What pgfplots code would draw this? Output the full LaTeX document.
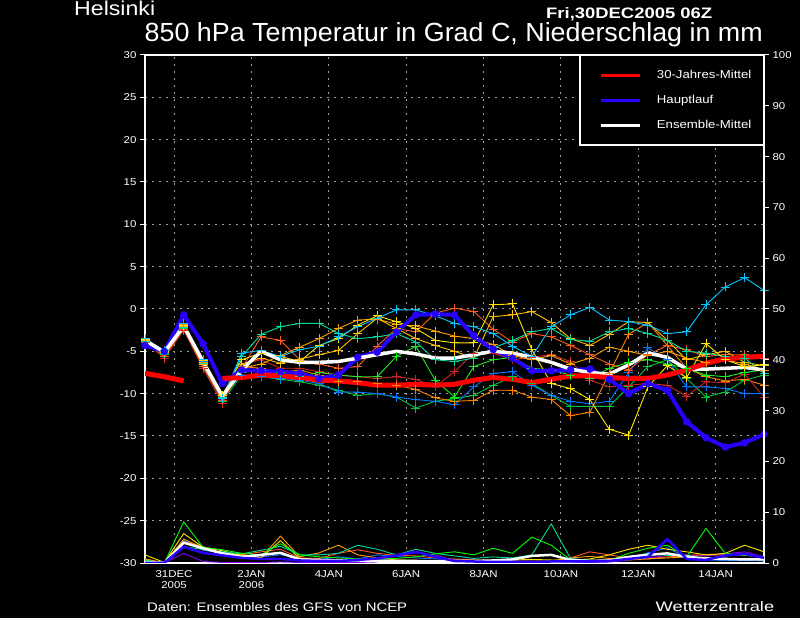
\documentclass[border=0pt]{standalone}
\usepackage{pgfplots}
\pgfplotsset{compat=1.18}
\usepackage{pgfplotstable}
\usepackage{graphicx}
\usepackage{fontspec}
\setmainfont{Liberation Sans}
\newfontfamily\wide[FakeStretch=1.15]{Liberation Sans}

\definecolor{mA}{RGB}{0,200,255}
\definecolor{mB}{RGB}{0,220,160}
\definecolor{mC}{RGB}{255,230,0}
\definecolor{mD}{RGB}{255,190,0}
\definecolor{mE}{RGB}{255,160,0}
\definecolor{mF}{RGB}{255,90,30}
\definecolor{mG}{RGB}{200,40,40}
\definecolor{mH}{RGB}{30,235,30}
\definecolor{mI}{RGB}{0,200,60}
\definecolor{mJ}{RGB}{0,120,255}
\definecolor{mK}{RGB}{255,130,0}
\definecolor{pP}{RGB}{140,0,255}
\definecolor{hblue}{RGB}{40,0,255}
\definecolor{hred}{RGB}{255,0,0}
\definecolor{gridgray}{RGB}{160,160,160}

\pgfplotstableread{
x red blue white m1 m2 m3 m4 m5 m6 m7 m8 m9 m10 m11
-0.75 -7.6 -4.3 -3.7 -3.5 -3.8 -3.6 -3.7 -3.6 -3.9 -3.9 -3.5 -3.8 -3.6 -3.7
-0.25 -8.0 -5.0 -5.1 -4.9 -5.3 -5.0 -5.2 -5.1 -5.6 -5.8 -5.0 -5.4 -5.1 -5.3
0.25 -8.5 -0.7 -2.0 -1.7 -2.2 -1.9 -2.1 -1.8 -2.4 -2.5 -1.8 -2.3 -1.9 -2.0
0.75 nan -4.1 -6.2 -6.0 -6.4 -6.1 -6.5 -6.3 -6.8 -7.0 -6.3 -6.6 -6.2 -6.4
1.25 -8.2 -8.8 -10.3 -10.6 -10.4 -10.2 -10.6 -10.5 -10.8 -11.2 -10.5 -10.9 -10.2 -10.6
1.75 -8.1 -7.2 -7.2 -5.2 -5.6 -6.0 -6.5 -7.0 -7.0 -6.5 -7.5 -7.8 -7.8 -6.8
2.25 -7.8 -7.3 -5.0 -4.9 -3.0 -5.2 -5.8 -6.5 -3.3 -6.0 -7.2 -8.0 -8.0 -7.0
2.75 -7.9 -7.4 -6.0 -5.6 -2.1 -5.6 -6.4 -5.5 -3.7 -7.0 -7.5 -8.3 -8.2 -7.5
3.25 -8.1 -7.6 -6.3 -4.8 -1.7 -6.2 -5.9 -4.5 -6.0 -7.0 -8.0 -8.6 -8.4 -7.2
3.75 -8.4 -8.2 -6.3 -4.4 -1.7 -4.3 -5.4 -3.5 -6.5 -7.4 -7.5 -9.0 -8.8 -7.8
4.25 -8.5 -7.8 -6.2 -3.3 -2.9 -3.5 -4.9 -2.3 -7.0 -7.8 -7.8 -9.6 -9.8 -8.6
4.75 -8.7 -5.7 -5.8 -2.1 -3.5 -1.9 -2.9 -1.3 -6.8 -8.0 -8.0 -10.2 -9.8 -8.5
5.25 -9.0 -5.1 -5.4 -1.1 -3.3 -0.8 -1.1 -1.2 -4.4 -8.2 -8.0 -10.0 -10.0 -8.8
5.75 -9.0 -2.7 -5.0 -0.1 -2.9 -1.5 -2.3 -1.8 -2.3 -8.0 -5.6 -10.4 -10.4 -9.0
6.25 -8.9 -0.7 -5.3 -0.1 -3.9 -2.3 -3.5 -2.0 -2.7 -8.3 -4.4 -11.7 -10.7 -9.5
6.75 -9.0 -0.6 -5.8 -0.8 -6.0 -3.7 -4.3 -2.6 -0.5 -9.2 -8.4 -10.9 -10.9 -10.5
7.25 -8.9 -0.7 -5.8 -1.7 -6.2 -4.0 -5.0 -3.2 0.1 -7.4 -10.4 -10.6 -11.3 -10.9
7.75 -8.4 -3.2 -5.4 -2.1 -5.8 -4.0 -5.8 -3.5 -0.3 -5.2 -6.8 -10.2 -9.2 -10.8
8.25 -8.1 -4.8 -5.0 -2.9 -4.6 0.5 -0.9 -4.2 -2.4 -5.2 -6.0 -9.0 -7.6 -9.6
8.75 -8.3 -5.8 -5.2 -4.4 -3.7 0.6 -0.7 -5.5 -3.9 -6.0 -5.7 -8.0 -7.4 -9.6
9.25 -8.7 -7.3 -5.7 -5.6 -2.7 -4.8 -0.3 -6.0 -2.9 -5.7 -7.0 -8.8 -9.0 -10.4
9.75 -8.3 -7.3 -6.3 -2.1 -2.3 -8.8 -1.6 -5.5 -3.3 -5.4 -7.2 -10.2 -10.2 -10.7
10.25 -7.9 -7.2 -7.1 -0.7 -3.6 -9.4 -3.5 -6.5 -4.3 -6.2 -7.8 -11.5 -10.9 -12.6
10.75 -7.9 -7.1 -7.5 0.2 -3.8 -10.7 -4.3 -5.8 -5.4 -8.4 -8.2 -11.5 -11.2 -12.2
11.25 -8.1 -8.3 -7.7 -1.3 -2.7 -14.2 -3.0 -4.5 -6.5 -9.2 -7.0 -11.5 -10.9 -7.6
11.75 -8.2 -10.0 -6.6 -1.5 -2.3 -14.9 -1.5 -5.0 -7.2 -9.0 -6.3 -9.2 -7.5 -3.0
12.25 -8.2 -8.8 -5.2 -1.9 -2.9 -9.2 -1.6 -5.5 -5.4 -8.8 -6.0 -6.8 -4.6 -1.6
12.75 -7.8 -9.6 -5.7 -2.9 -3.7 -6.7 -3.7 -5.0 -4.3 -9.0 -6.5 -6.0 -6.0 -4.3
13.25 -7.2 -13.3 -7.1 -2.7 -5.0 -8.1 -6.0 -5.8 -4.8 -10.3 -7.0 -8.2 -9.2 -7.0
13.75 -6.4 -15.2 -7.1 0.5 -5.2 -4.1 -5.4 -6.3 -5.6 -8.6 -7.8 -10.4 -9.2 -8.0
14.25 -5.9 -16.3 -7.0 2.6 -5.6 -6.0 -5.0 -6.0 -5.4 -8.7 -8.0 -9.8 -9.4 -8.5
14.75 -5.7 -15.8 -6.9 3.7 -5.8 -6.8 -6.3 -6.5 -5.4 -7.7 -7.5 -8.4 -10.0 -8.3
15.25 -5.6 -14.8 -7.2 2.2 -7.6 -6.6 -6.7 -7.2 -5.8 -10.4 -7.2 -7.8 -10.0 -9.0
}\temps

\pgfplotstableread{
x pg pt py po pr pb pp pw pm
-0.75 0.6 0.5 1.6 0.8 0.8 0.3 0.3 0.2 0.0
-0.25 0.0 0.0 0.1 0.0 0.0 0.0 0.0 0.0 0.0
0.25 8.1 3.2 5.8 4.7 4.2 4.5 1.9 4.0 3.2
0.75 3.1 2.7 3.1 3.0 3.2 2.5 0.3 2.9 2.0
1.25 2.6 2.2 2.4 2.0 2.0 2.0 0.1 1.9 1.5
1.75 1.9 1.8 1.5 1.6 1.6 1.6 0.1 1.2 1.0
2.25 1.6 2.5 1.0 1.0 2.2 1.2 0.1 1.6 0.8
2.75 3.8 3.3 4.4 5.3 2.7 1.6 0.2 2.0 0.8
3.25 1.6 1.6 0.9 1.2 1.0 0.9 0.1 0.7 0.5
3.75 1.2 1.6 0.6 2.0 0.9 0.7 0.1 0.6 0.4
4.25 1.0 1.9 0.7 3.5 1.9 1.2 0.1 0.5 0.4
4.75 0.8 3.5 0.5 1.6 2.6 0.8 0.1 0.5 0.6
5.25 0.8 2.7 0.4 1.0 1.9 1.6 0.2 0.4 0.9
5.75 0.9 1.6 0.4 0.6 1.5 1.3 1.6 0.4 1.5
6.25 1.2 2.7 0.3 0.5 1.4 1.0 2.0 0.4 2.2
6.75 1.8 1.9 0.3 0.4 1.0 0.8 1.6 0.3 1.2
7.25 2.2 1.4 0.4 0.3 0.8 0.6 0.5 0.4 0.4
7.75 1.6 0.9 0.5 0.3 0.6 0.5 0.3 0.4 0.3
8.25 2.9 1.2 0.5 0.4 0.5 0.4 0.2 0.5 0.2
8.75 1.9 1.0 0.6 0.3 0.4 0.4 0.2 0.7 0.2
9.25 5.1 1.6 0.7 0.3 0.4 0.3 0.2 1.4 0.2
9.75 3.5 7.7 0.6 0.4 0.3 0.3 0.3 1.6 0.3
10.25 0.6 0.9 0.5 1.0 1.0 0.4 0.2 0.6 0.3
10.75 0.5 0.5 0.8 1.3 2.2 0.3 0.1 0.4 0.3
11.25 0.5 0.6 1.6 0.9 1.6 0.4 0.2 0.5 0.4
11.75 1.9 1.0 2.7 0.6 1.0 1.0 0.6 1.2 0.8
12.25 2.9 1.9 3.5 0.8 0.8 2.0 1.0 1.6 1.2
12.75 3.5 1.5 2.7 1.0 1.2 3.0 1.5 1.9 4.7
13.25 1.2 1.5 2.2 1.2 1.5 1.0 1.6 1.2 0.8
13.75 6.8 0.8 1.6 1.0 1.6 0.6 1.4 0.9 0.6
14.25 1.9 0.7 1.9 0.8 1.6 0.5 1.8 0.8 1.5
14.75 1.5 0.8 3.5 0.9 1.5 0.5 2.2 0.7 1.8
15.25 1.2 0.6 2.2 0.7 1.2 0.4 1.2 0.7 1.0
}\precip

\pgfplotsset{
  member/.style={forget plot, line width=0.9bp, mark=+, mark size=4.5bp,
    mark options={line width=0.9bp, solid}, line join=round},
  pline/.style={forget plot, line width=0.9bp, line join=round},
}

\begin{document}
\begin{tikzpicture}
\path[use as bounding box, fill=black] (0,0) rectangle (800bp,618bp);

\begin{axis}[
  at={(145bp,55bp)}, anchor=south west,
  width=619bp, height=508bp, scale only axis,
  xmin=-0.75, xmax=15.25, ymin=-30, ymax=30,
  xtick={0,2,...,14},
  xticklabels={{31DEC\\2005},{2JAN\\2006},4JAN,6JAN,8JAN,10JAN,12JAN,14JAN},
  ytick={-30,-25,...,30},
  ytick pos=left,
  tick align=outside,
  major tick length=5bp,
  xtick style={draw=none},
  ytick style={white, line width=1bp},
  axis line style={white, line width=1.6bp},
  /pgf/number format/assume math mode=true,
  tick label style={text=white, font=\wide\fontsize{10}{11}\selectfont},
  xticklabel style={align=center, inner sep=2bp},
  grid=major,
  major grid style={draw=gridgray, line width=1bp, dash pattern=on 1.5bp off 5.5bp},
  legend image code/.code={\path (0bp,0bp); \draw[#1] (10bp,0bp) -- (49bp,0bp);},
  legend cell align=left,
  legend style={at={(1,1)}, anchor=north east, fill=black, draw=white,
    line width=1.2bp, text=white, font=\wide\fontsize{11.5}{13}\selectfont,
    inner xsep=10bp, inner ysep=13bp, row sep=11bp, column sep=13bp},
]
\addlegendimage{hred, line width=3bp}
\addlegendentry{30-Jahres-Mittel}
\addlegendimage{hblue, line width=3bp}
\addlegendentry{Hauptlauf}
\addlegendimage{white, line width=3bp}
\addlegendentry{Ensemble-Mittel}

\addplot[member, color=mI] table[x=x, y=m9] {\temps};
\addplot[member, color=mJ] table[x=x, y=m10] {\temps};
\addplot[member, color=mK] table[x=x, y=m11] {\temps};
\addplot[member, color=mG] table[x=x, y=m7] {\temps};
\addplot[member, color=mH] table[x=x, y=m8] {\temps};
\addplot[member, color=mE] table[x=x, y=m5] {\temps};
\addplot[member, color=mF] table[x=x, y=m6] {\temps};
\addplot[member, color=mD] table[x=x, y=m4] {\temps};
\addplot[member, color=mB] table[x=x, y=m2] {\temps};
\addplot[member, color=mC] table[x=x, y=m3] {\temps};
\addplot[member, color=mA] table[x=x, y=m1] {\temps};

\addplot[forget plot, color=hblue, line width=4bp, line join=round,
  mark=*, mark size=3.5bp, mark options={solid, fill=hblue, draw=hblue, line width=0.5bp}]
  table[x=x, y=blue] {\temps};
\addplot[forget plot, white, line width=3.5bp, line join=round] table[x=x, y=white] {\temps};
\addplot[forget plot, hred, line width=5bp, line join=round, unbounded coords=jump]
  table[x=x, y=red] {\temps};
\end{axis}

\begin{axis}[
  at={(145bp,55bp)}, anchor=south west,
  width=619bp, height=508bp, scale only axis,
  xmin=-0.75, xmax=15.25, ymin=0, ymax=100,
  axis x line=none, axis y line*=right,
  ytick={0,10,...,100},
  tick align=outside,
  major tick length=5bp,
  ytick style={white, line width=1bp},
  axis line style={white, line width=1.6bp},
  /pgf/number format/assume math mode=true,
  tick label style={text=white, font=\wide\fontsize{10}{11}\selectfont},
]
\addplot[pline, color=pP] table[x=x, y=pp] {\precip};
\addplot[pline, color=mJ] table[x=x, y=pb] {\precip};
\addplot[pline, color=mF] table[x=x, y=pr] {\precip};
\addplot[pline, color=mE] table[x=x, y=po] {\precip};
\addplot[pline, color=mC] table[x=x, y=py] {\precip};
\addplot[pline, color=mB] table[x=x, y=pt] {\precip};
\addplot[pline, color=green] table[x=x, y=pg] {\precip};
\addplot[pline, white, line width=2.5bp] table[x=x, y=pw] {\precip};
\addplot[pline, color=hblue, line width=2.5bp] table[x=x, y=pm] {\precip};
\end{axis}

\node[anchor=base west, inner sep=0, text=white] at (74bp,602.5bp)
  {\resizebox{81bp}{14.5bp}{Helsinki}};
\node[anchor=base west, inner sep=0, text=white] at (546bp,599.7bp)
  {\resizebox{166bp}{11bp}{\bfseries Fri,30DEC2005 06Z}};
\node[anchor=base west, inner sep=0, text=white] at (144.5bp,576.3bp)
  {\resizebox{618bp}{19bp}{850 hPa Temperatur in Grad C, Niederschlag in mm}};
\node[anchor=base west, inner sep=0, text=white] at (147bp,6.3bp)
  {\resizebox{260bp}{9bp}{Daten: Ensembles des GFS von NCEP}};
\node[anchor=base west, inner sep=0, text=white] at (655.5bp,6.3bp)
  {\resizebox{118.5bp}{10bp}{Wetterzentrale}};
\end{tikzpicture}
\end{document}
